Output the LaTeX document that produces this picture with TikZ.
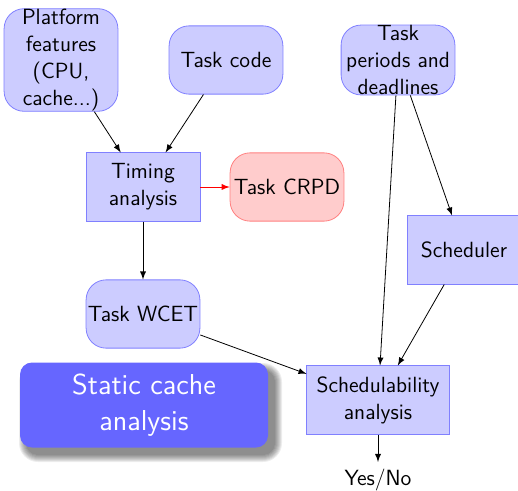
\documentclass[tikz,border=0pt]{standalone}
\usepackage{fontspec}
\usetikzlibrary{arrows}
\begin{document}
\begin{tikzpicture}[x=0.5pt,y=-0.5pt,>=latex,
  every node/.style={font=\sffamily\fontsize{11}{13.6}\selectfont},
  rnode/.style={draw=blue!50,fill=blue!20,rounded corners=10pt,text width=2cm,minimum height=1.2cm,inner sep=0pt,align=center},
  bnode/.style={draw=blue!50,fill=blue!20,text width=2cm,minimum height=1.2cm,inner sep=0pt,align=center},
  cnode/.style={draw=red!50,fill=red!20,rounded corners=10pt,text width=2cm,minimum height=1.2cm,inner sep=0pt,align=center},
  arr/.style={->,black}]
\useasboundingbox (0,0) rectangle (518,491);
\node[rnode] (plat) at (61,60) {Platform features (CPU, cache...)};
\node[rnode] (code) at (226,60) {Task code};
\node[rnode] (per) at (398,60) {Task periods and deadlines};
\node[bnode] (tim) at (143,187) {Timing analysis};
\node[cnode] (crpd) at (287,187) {Task CRPD};
\node[bnode] (sch) at (464,250) {Scheduler};
\node[rnode] (wcet) at (143,314) {Task WCET};
\node[bnode,text width=2.5cm] (sa) at (378,400) {Schedulability analysis};
\foreach \i in {0,...,7}{
  \fill[black,opacity=0.07,rounded corners={6pt+0.5pt*\i}] (26-\i,370-\i) rectangle (275+\i,455+\i);
}
\node[fill=blue!60,rounded corners=6pt,minimum width=124pt,minimum height=42.5pt,align=center,text=white,
  font=\sffamily\fontsize{14.4}{18}\selectfont] (sc) at (144,405) {Static cache\\analysis};
\node (yn) at (378,480) {Yes/No};
\draw[arr] (plat) -- (tim);
\draw[arr] (code) -- (tim);
\draw[arr,red] (tim) -- (crpd);
\draw[arr] (tim) -- (wcet);
\draw[arr] (per) -- (sa);
\draw[arr] (per) -- (sch);
\draw[arr] (sch) -- (sa);
\draw[arr] (wcet) -- (sa);
\draw[arr] (sa) -- (yn);
\end{tikzpicture}
\end{document}
